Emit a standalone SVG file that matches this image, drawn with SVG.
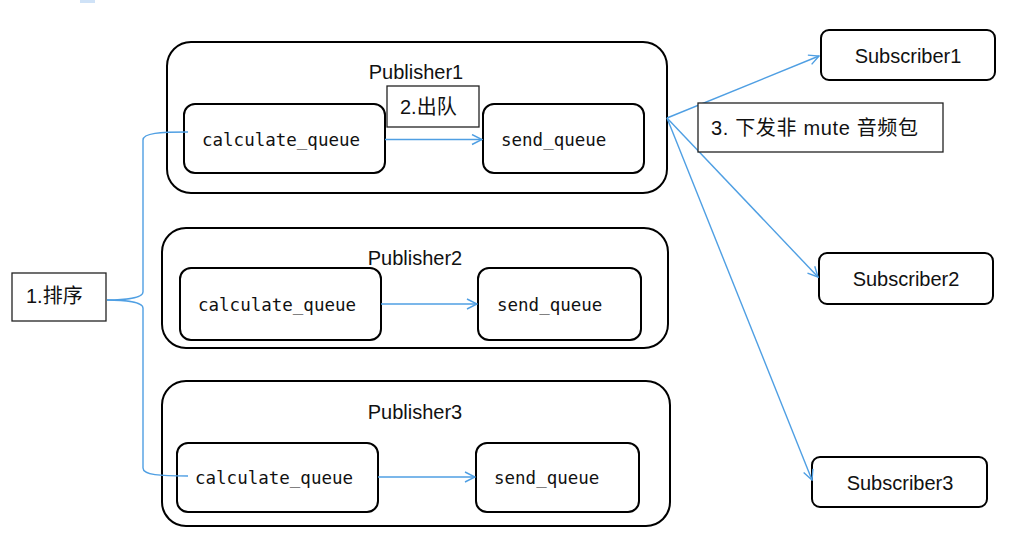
<svg xmlns="http://www.w3.org/2000/svg" width="1024" height="551" viewBox="0 0 1024 551">
<defs>
<style>
.outer{fill:#fff;stroke:#000;stroke-width:2}
.inner{fill:#fff;stroke:#000;stroke-width:2}
.lbl{fill:#fff;stroke:#222;stroke-width:1.3}
.sans{font-family:"Liberation Sans","Noto Sans CJK SC",sans-serif;font-size:20px;fill:#111}
.cjk{font-family:"Liberation Sans","Noto Sans CJK SC",sans-serif;font-size:20px;fill:#111}
.mono{font-family:"DejaVu Sans Mono","Liberation Mono",monospace;font-size:17.5px;fill:#111}
.conn{fill:none;stroke:#4f9fe3;stroke-width:1.4}
</style>
<marker id="arr" viewBox="0 0 12 12" refX="11" refY="6" markerWidth="12" markerHeight="12" markerUnits="userSpaceOnUse" orient="auto">
<path d="M1,1 L11,6 L1,11" fill="none" stroke="#4f9fe3" stroke-width="1.4"/>
</marker>
</defs>
<rect x="0" y="0" width="1024" height="551" fill="#fff"/>
<rect x="80" y="0" width="15" height="3" fill="#cfe2f7"/>

<g id="publisher1">
<rect class="outer" x="167" y="42" width="500" height="151" rx="24"/>
<text class="sans" x="416" y="79" text-anchor="middle">Publisher1</text>
<g id="p1_calc"><rect class="inner" x="184" y="104" width="201" height="69" rx="11"/><text class="mono" x="202" y="146">calculate_queue</text></g>
<g id="p1_send"><rect class="inner" x="483" y="104" width="161" height="69" rx="11"/><text class="mono" x="501" y="146">send_queue</text></g>
</g>

<g id="publisher2">
<rect class="outer" x="162" y="228" width="506" height="120" rx="24"/>
<text class="sans" x="415" y="265" text-anchor="middle">Publisher2</text>
<g id="p2_calc"><rect class="inner" x="180" y="268" width="201" height="72" rx="11"/><text class="mono" x="198" y="311">calculate_queue</text></g>
<g id="p2_send"><rect class="inner" x="478" y="268" width="163" height="72" rx="11"/><text class="mono" x="497" y="311">send_queue</text></g>
</g>

<g id="publisher3">
<rect class="outer" x="162" y="381" width="508" height="145" rx="24"/>
<text class="sans" x="415" y="419" text-anchor="middle">Publisher3</text>
<g id="p3_calc"><rect class="inner" x="177" y="443" width="201" height="69" rx="11"/><text class="mono" x="195" y="484">calculate_queue</text></g>
<g id="p3_send"><rect class="inner" x="476" y="443" width="163" height="69" rx="11"/><text class="mono" x="494" y="484">send_queue</text></g>
</g>

<g id="subscriber1"><rect class="inner" x="821" y="30" width="174" height="50" rx="8"/><text class="sans" x="908" y="63" text-anchor="middle">Subscriber1</text></g>
<g id="subscriber2"><rect class="inner" x="819" y="253" width="174" height="51" rx="8"/><text class="sans" x="906" y="286" text-anchor="middle">Subscriber2</text></g>
<g id="subscriber3"><rect class="inner" x="812" y="457" width="175" height="50" rx="8"/><text class="sans" x="900" y="490" text-anchor="middle">Subscriber3</text></g>

<g id="connectors">
<path class="conn" d="M385,139.5 L482,139.5" marker-end="url(#arr)"/>
<path class="conn" d="M381,304 L477,304" marker-end="url(#arr)"/>
<path class="conn" d="M378,477 L475,477" marker-end="url(#arr)"/>
<path class="conn" d="M107,300 C125,300 143,298 143,292 L143,140 C143,133 160,132 188,132"/>
<path class="conn" d="M107,300 C125,300 143,302 143,308 L143,468 C143,475 160,476 188,476"/>
<path class="conn" d="M667,118 L819,56" marker-end="url(#arr)"/>
<path class="conn" d="M667,118 L818,277" marker-end="url(#arr)"/>
<path class="conn" d="M667,118 L812,480" marker-end="url(#arr)"/>
</g>

<g id="label1"><rect class="lbl" x="12" y="273" width="94" height="48"/><text class="cjk" x="26" y="303">1.排序</text></g>
<g id="label2"><rect class="lbl" x="387" y="86" width="92" height="41"/><text class="cjk" x="400" y="114">2.出队</text></g>
<g id="label3"><rect class="lbl" x="698" y="103" width="245" height="49"/><text class="cjk" x="711" y="135" font-size="21.5" textLength="207" lengthAdjust="spacing">3.  下发非 mute 音频包</text></g>
</svg>
